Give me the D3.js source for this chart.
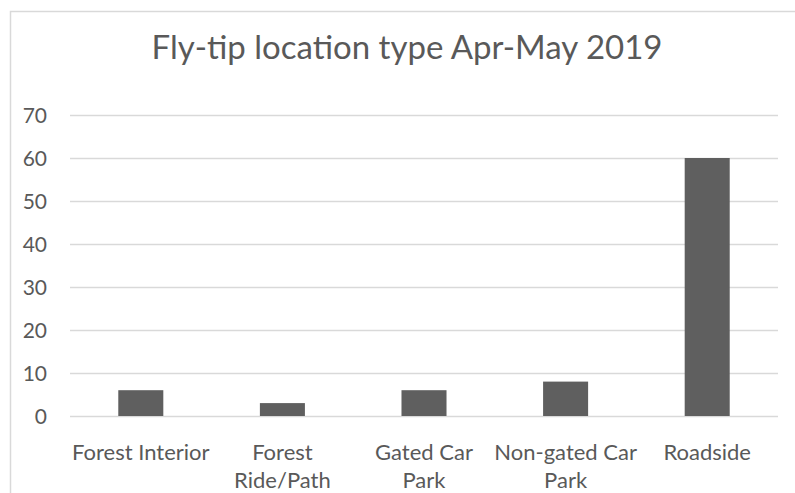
<!DOCTYPE html>
<html>
<head>
<meta charset="utf-8">
<script src="https://cdn.jsdelivr.net/npm/d3@7"></script>
<style>
  body { margin: 0; background: #fff; }
  text { font-family: Lato, "Open Sans", sans-serif; fill: #595959; }
</style>
</head>
<body>
<div id="chart"></div>
<script>
var width = 795;
var height = 493;

// data
var categories = ["Forest Interior", "Forest Ride/Path", "Gated Car Park", "Non-gated Car Park", "Roadside"];
var labelLines = [["Forest Interior"], ["Forest", "Ride/Path"], ["Gated Car", "Park"], ["Non-gated Car", "Park"], ["Roadside"]];
var counts = [6, 3, 6, 8, 60];
var yTicks = [0, 10, 20, 30, 40, 50, 60, 70];
var title = "Fly-tip location type Apr-May 2019";

var svg = d3.select("#chart")
  .append("svg")
  .attr("width", width)
  .attr("height", height);

// chart area border (runs off the right and bottom edges)
svg.append("rect")
  .attr("x", 10.5)
  .attr("y", 11.5)
  .attr("width", 800)
  .attr("height", 500)
  .attr("fill", "none")
  .attr("stroke", "#d9d9d9")
  .attr("stroke-width", 1.5);

svg.append("text")
  .attr("x", 407)
  .attr("y", 59)
  .attr("text-anchor", "middle")
  .attr("font-size", "33px")
  .text(title);

var xScale = d3.scaleBand()
  .domain(categories)
  .range([70, 778])
  .paddingInner(0.682)
  .paddingOuter(0.341);

var yScale = d3.scaleLinear()
  .domain([0, 70])
  .range([416, 115]);

// gridlines + tick labels
var yAxis = d3.axisLeft(yScale)
  .tickValues(yTicks)
  .tickSize(-(778 - 70))
  .tickPadding(23);

var gy = svg.append("g")
  .attr("transform", "translate(70,0)")
  .call(yAxis);
gy.select(".domain").remove();
gy.selectAll(".tick line")
  .attr("stroke", "#d9d9d9")
  .attr("stroke-width", 1.3);
gy.selectAll(".tick text")
  .attr("font-family", "Lato, sans-serif")
  .attr("font-size", "21px")
  .attr("fill", "#595959")
  .attr("dy", "0.36em");

// bars
svg.append("g")
  .selectAll("rect")
  .data(counts)
  .enter()
  .append("rect")
  .attr("x", function (d, i) { return xScale(categories[i]); })
  .attr("y", function (d) { return yScale(d); })
  .attr("width", xScale.bandwidth())
  .attr("height", function (d) { return yScale(0) - yScale(d); })
  .attr("fill", "#5f5f5f");

// category labels, wrapped like the original
var labels = svg.append("g")
  .selectAll("text")
  .data(categories)
  .enter()
  .append("text")
  .attr("text-anchor", "middle")
  .attr("font-size", "22px")
  .attr("x", function (d) { return xScale(d) + xScale.bandwidth() / 2; })
  .attr("y", 460);

labels.each(function (d, i) {
  var t = d3.select(this);
  labelLines[i].forEach(function (line, j) {
    t.append("tspan")
      .attr("x", xScale(d) + xScale.bandwidth() / 2)
      .attr("y", 460 + j * 28)
      .text(line);
  });
});
</script>
</body>
</html>
